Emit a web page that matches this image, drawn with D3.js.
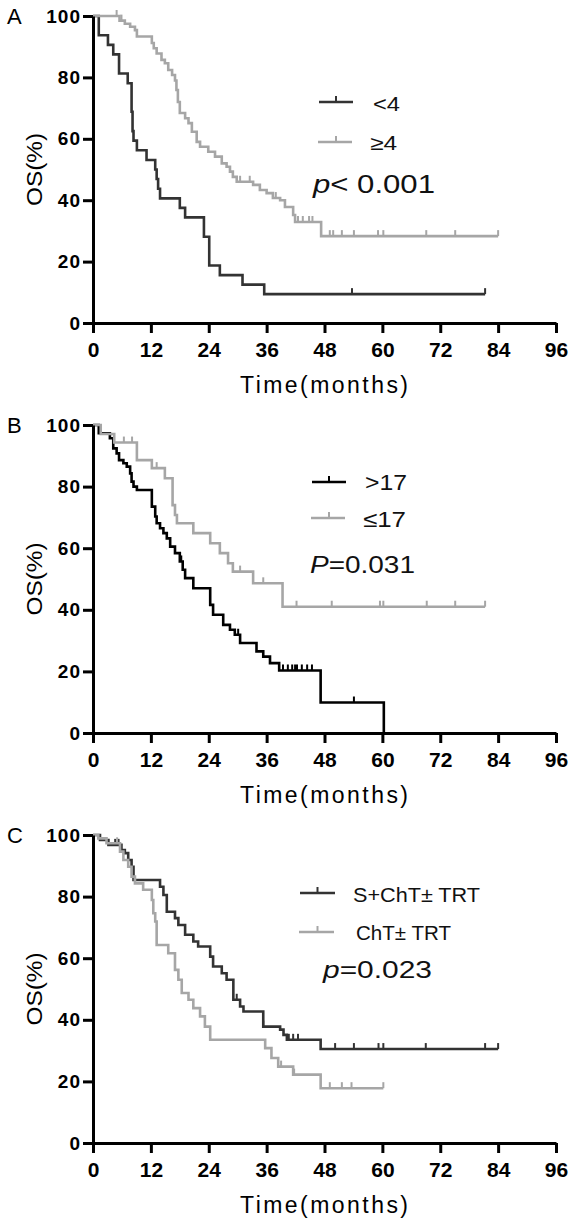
<!DOCTYPE html>
<html><head><meta charset="utf-8">
<script src="https://cdn.jsdelivr.net/npm/d3@7"></script>
<style>body{margin:0;background:#fff}svg{display:block}</style>
</head><body>
<script>
// ---------- data ----------
const xTicks = [0,12,24,36,48,60,72,84,96];
const yTicks = [0,20,40,60,80,100];
const panelLetters = ["A","B","C"];
const legendA = ["<4","≥4"];
const legendB = [">17","≤17"];
const legendC = ["S+ChT± TRT","ChT± TRT"];
const pTexts = [["p","< 0.001"],["P","=0.031"],["p","=0.023"]];

// Kaplan-Meier steps: [time, survival after event]
const aLow = [[0,100],[1.2,93.75],[3.1,90.6],[4.2,87.5],[5.4,81.25],[7.2,78.1],[8.0,68.8],[8.2,62.5],[8.4,59.4],[9.1,56.25],[11.1,53.1],[12.9,50],[13.2,46.9],[13.5,43.75],[13.9,40.6],[18,37.5],[19.1,34.4],[23,28.1],[24.1,18.75],[26.3,15.6],[31,12.5],[35.5,9.4]];
const aLowEnd = 81.3;
const aLowCens = [53.7,81.3];
const aHigh = [[0,100],[5.5,98.5],[6.6,97.5],[7.7,96.5],[8.7,95.4],[9.1,93.3],[12.2,91.2],[12.6,89.5],[13.2,87.8],[14.2,85.7],[14.9,84.6],[15.6,82.4],[16.4,80.8],[17.0,79],[17.3,75.9],[17.6,72],[18,68.4],[19.1,66.7],[19.8,65.1],[20.5,62.3],[21.5,59],[22.2,57.4],[23.9,55.8],[25.3,54.2],[26.7,52],[27.7,50.9],[28.4,49.3],[29,47.6],[29.8,46],[33.2,45],[34.6,43.3],[36,42.3],[37.3,40.7],[38.8,40],[39.8,37.8],[41.5,35.2],[41.9,32.9],[47.3,28.3]];
const aHighEnd = 84;
const aHighCens = [4.9,5.9,30.5,32.5,37.9,42.5,43.5,44.8,45.5,49.1,49.8,51.6,54.1,59.1,60.2,69.1,75.1,84];

const bHigh = [[0,100],[1.2,97.3],[3.5,95.7],[4.2,92.4],[4.9,90.8],[5.4,88.6],[6.3,87.6],[7.0,86.5],[7.7,84.3],[8.0,81.6],[8.4,80],[9.1,78.9],[12.2,73.5],[12.9,70.3],[13.2,68.1],[13.9,66.5],[14.6,64.9],[15.3,63.2],[16.0,60.5],[17.0,58.4],[18.0,55.7],[18.6,53],[19.1,50.3],[20.8,47],[24.3,41.6],[24.9,38.4],[27.0,35.1],[28.4,33.5],[29.4,31.9],[30.5,29.2],[33.9,26.5],[35.3,24.8],[36.7,22.7],[38.6,20.3],[47.2,9.9],[60.3,0]];
const bHighEnd = 60.3;
const bHighCens = [18.3,30.1,39.4,40.4,41.3,41.9,42.3,43.3,44.4,45.4,54.1];
const bLow = [[0,100],[1.6,97.1],[4.4,94.3],[9.1,88.6],[12.2,86],[14.9,82.7],[16.5,74],[17.0,70.8],[17.4,68.1],[20.8,64.9],[24.3,61.6],[26.3,58.4],[28.0,55.1],[29.0,52.4],[33.2,48.6],[39.3,41]];
const bLowEnd = 81.3;
const bLowCens = [6.4,8.1,13.2,30.5,35.3,42.2,49.5,59.5,60.2,69.2,75.1,81.3];

const cSurg = [[0,100],[1.45,98.4],[3.2,96.8],[5.9,95.1],[6.6,94.1],[7.3,91.9],[8.0,89.7],[8.4,85.4],[13.9,83.2],[14.6,80.5],[15.3,75.1],[17.0,73],[17.7,70.8],[19.1,67.6],[20.8,65.4],[21.8,63.8],[24.3,60.5],[24.9,57.3],[26.7,55.1],[27.7,53],[29.1,46.5],[30.5,44.3],[31.2,42.7],[35.3,37.8],[38.8,36.8],[39.5,35.1],[40.2,33.5],[47.2,30.5]];
const cSurgEnd = 84;
const cSurgCens = [4.6,5.3,29.8,35.3,40.6,41.5,42.5,50.2,54.1,59.2,60.2,69.0,81.3,84];
const cChT = [[0,100],[1.1,98.9],[2.8,97.3],[5.6,94.6],[6.3,91.9],[7.3,89.7],[8.0,86.5],[8.7,84.3],[10.4,82.2],[12.2,78.9],[12.5,74.6],[12.9,71.9],[13.2,64.3],[15.6,61.6],[17.0,56.2],[17.7,53],[18.4,48.7],[19.8,46.5],[20.8,43.8],[22.2,41.1],[23.2,37.8],[24.3,33.5],[35.7,30.8],[37.0,27.6],[38.4,24.8],[41.5,22.2],[47.2,17.8]];
const cChTEnd = 60.2;
const cChTCens = [5.0,39.0,41.7,49.1,51.6,53.6,60.2];

// ---------- layout ----------
const W = 581, H = 1223;
const FONT = "'Liberation Sans', Arial, sans-serif";
const DARK = "#333333", GRAY = "#a6a6a6", BLACK = "#000000";

const panels = [
  {top:16, bottom:323, series:[
     {d:aLow, end:aLowEnd, cens:aLowCens, color:DARK},
     {d:aHigh, end:aHighEnd, cens:aHighCens, color:GRAY}],
   legend:legendA, leg:{lx:[319,353], ly:[102,142], tx:[373,370], ty:[111,150], tw:[27,27], fs:20},
   p:{x:313, y:193, w:122, fs:25}},
  {top:425, bottom:733, series:[
     {d:bHigh, end:bHighEnd, cens:bHighCens, color:BLACK},
     {d:bLow, end:bLowEnd, cens:bLowCens, color:GRAY}],
   legend:legendB, leg:{lx:[312,346], ly:[482,518], tx:[365,363], ty:[490,527], tw:[42,43], fs:22},
   p:{x:310, y:573, w:105, fs:24}},
  {top:835, bottom:1143, series:[
     {d:cSurg, end:cSurgEnd, cens:cSurgCens, color:DARK},
     {d:cChT, end:cChTEnd, cens:cChTCens, color:GRAY}],
   legend:legendC, leg:{lx:[300,335], ly:[893,932], tx:[353,356], ty:[902,940], tw:[127,95], fs:21},
   p:{x:323, y:978, w:109, fs:24}}
];

const svg = d3.select("body").append("svg").attr("width", W).attr("height", H)
  .style("font-family", FONT);

const x = d3.scaleLinear().domain([0,96]).range([93,556]);

function survAt(d, t){ let v = 100; for (const e of d){ if (e[0] <= t) v = e[1]; } return v; }

panels.forEach((P, i) => {
  const y = d3.scaleLinear().domain([0,100]).range([P.bottom, P.top]);
  const g = svg.append("g");

  // series
  P.series.forEach(s => {
    let path = `M${x(0)},${y(100)}`;
    s.d.forEach(e => { path += `H${x(e[0])}V${y(e[1])}`; });
    path += `H${x(s.end)}`;
    g.append("path").attr("d", path).attr("fill","none")
      .attr("stroke", s.color).attr("stroke-width", 2.6);
    g.selectAll(null).data(s.cens).enter().append("line")
      .attr("x1", t => x(t)).attr("x2", t => x(t))
      .attr("y1", t => y(survAt(s.d, t))).attr("y2", t => y(survAt(s.d, t)) - 6)
      .attr("stroke", s.color).attr("stroke-width", 2);
  });

  // axes
  const xa = g.append("g").attr("transform", `translate(0,${P.bottom})`)
    .call(d3.axisBottom(x).tickValues(xTicks).tickSize(10).tickSizeOuter(0).tickPadding(8));
  const ya = g.append("g").attr("transform", `translate(${x(0)},0)`)
    .call(d3.axisLeft(y).tickValues(yTicks).tickSize(10).tickSizeOuter(0).tickPadding(2));
  [xa, ya].forEach(a => {
    a.select(".domain").attr("stroke", "#000").attr("stroke-width", 3);
    a.selectAll(".tick line").attr("stroke", "#000").attr("stroke-width", 3);
    a.selectAll("text").attr("fill","#000").style("font-family", FONT).style("font-weight","bold");
  });
  xa.selectAll("text").style("font-size","21px").attr("dy","0.72em").attr("y", 19);
  ya.selectAll("text").style("font-size","19px").style("letter-spacing","1px");

  // panel letter
  g.append("text").attr("x", 7).attr("y", P.top + 8).text(panelLetters[i])
    .style("font-size","22px").attr("fill","#000");

  // y-axis title
  g.append("text").attr("transform", `translate(42,${(P.top+P.bottom)/2}) rotate(-90)`)
    .attr("text-anchor","middle").text("OS(%)")
    .attr("textLength", 73).attr("lengthAdjust","spacingAndGlyphs")
    .style("font-size","22px").attr("fill","#000");

  // x-axis title
  g.append("text").attr("x", 240).attr("y", P.bottom + 70).text("Time(months)")
    .attr("textLength", 168).attr("lengthAdjust","spacing")
    .style("font-size","23px").attr("fill","#000");

  // legend
  P.series.forEach((s, k) => {
    const L = P.leg;
    g.append("line").attr("x1", L.lx[0] - (k? 1:0)).attr("x2", L.lx[1] - (k?1:0))
      .attr("y1", L.ly[k]).attr("y2", L.ly[k]).attr("stroke", s.color).attr("stroke-width", 2.6);
    const mx = (L.lx[0] + L.lx[1]) / 2;
    g.append("line").attr("x1", mx).attr("x2", mx).attr("y1", L.ly[k]).attr("y2", L.ly[k] - 6)
      .attr("stroke", s.color).attr("stroke-width", 2);
    g.append("text").attr("x", L.tx[k]).attr("y", L.ty[k]).text(P.legend[k])
      .attr("textLength", L.tw[k]).attr("lengthAdjust","spacingAndGlyphs")
      .style("font-size", L.fs + "px").attr("fill","#111");
  });

  // p value
  const pt = g.append("text").attr("x", P.p.x).attr("y", P.p.y)
    .attr("textLength", P.p.w).attr("lengthAdjust","spacingAndGlyphs")
    .style("font-size", P.p.fs + "px").attr("fill","#111");
  pt.append("tspan").style("font-style","italic").text(pTexts[i][0]);
  pt.append("tspan").text(pTexts[i][1]);
});
</script>
</body></html>
